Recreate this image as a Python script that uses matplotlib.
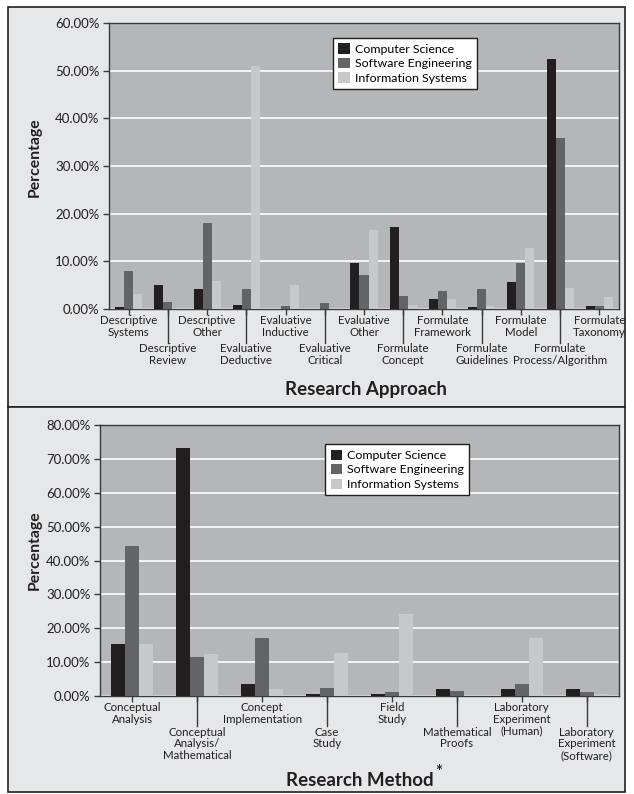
import matplotlib
matplotlib.use("Agg")
import matplotlib.pyplot as plt
from matplotlib.patches import Rectangle
from matplotlib.lines import Line2D
from matplotlib.ticker import FuncFormatter
import numpy as np

plt.rcParams['font.family'] = ['Lato', 'DejaVu Sans']

series = ["Computer Science", "Software Engineering", "Information Systems"]
colors = ["#231f20", "#636466", "#c7c8ca"]

approach_cats = ["Descriptive\nSystems", "Descriptive\nReview", "Descriptive\nOther",
                 "Evaluative\nDeductive", "Evaluative\nInductive", "Evaluative\nCritical",
                 "Evaluative\nOther", "Formulate\nConcept", "Formulate\nFramework",
                 "Formulate\nGuidelines", "Formulate\nModel", "Formulate\nProcess/Algorithm",
                 "Formulate\nTaxonomy"]
approach_cs = [0.5, 5.0, 4.1, 0.9, 0.0, 0.0, 9.7, 17.1, 2.2, 0.5, 5.7, 52.5, 0.7]
approach_se = [8.0, 1.5, 18.1, 4.3, 0.7, 1.3, 7.2, 2.8, 3.8, 4.3, 9.7, 35.9, 0.7]
approach_is = [3.1, 0.2, 5.9, 51.0, 5.0, 0.0, 16.6, 0.9, 2.2, 0.7, 12.7, 4.5, 2.6]

method_cats = ["Conceptual\nAnalysis", "Conceptual\nAnalysis/\nMathematical",
               "Concept\nImplementation", "Case\nStudy", "Field\nStudy",
               "Mathematical\nProofs", "Laboratory\nExperiment\n(Human)",
               "Laboratory\nExperiment\n(Software)"]
method_cs = [15.4, 73.3, 3.5, 0.6, 0.6, 2.1, 2.1, 2.1]
method_se = [44.3, 11.5, 17.1, 2.4, 1.2, 1.5, 3.5, 1.2]
method_is = [15.4, 12.4, 2.1, 12.7, 24.2, 0.0, 17.1, 0.6]

W, H = 634, 794
fig = plt.figure(figsize=(W / 100, H / 100), dpi=100, facecolor="white")

def fx(px):
    return px / W

def fy(py):
    return 1 - py / H

# panels
for (y0, y1) in [(7, 407), (407, 792)]:
    fig.patches.append(Rectangle((fx(8), fy(y1)), fx(625) - fx(8), fy(y0) - fy(y1),
                                 transform=fig.transFigure, facecolor="#e6e7e8",
                                 edgecolor="#231f20", linewidth=1.2, zorder=-10))

def make_chart(rect, hpx, cats, data, width, ymax, leg_anchor, label_gap, row2_gap, line_px):
    ax = fig.add_axes(rect)
    ax.set_zorder(5)
    ax.set_facecolor("#b5b6b8")
    x = np.arange(len(cats))
    for i, (vals, name, c) in enumerate(zip(data, series, colors)):
        ax.bar(x + (i - 1) * width, vals, width=width, color=c, label=name, zorder=3)
    ax.set_xlim(-0.5, len(cats) - 0.5)
    ax.set_ylim(0, ymax)
    ax.set_yticks(np.arange(0, ymax + 0.1, 10))
    ax.yaxis.set_major_formatter(FuncFormatter(lambda v, p: "%.2f%%" % v))
    ax.grid(axis="y", color="white", linewidth=1.2, zorder=1)
    ax.set_axisbelow(True)
    for s in ax.spines.values():
        s.set_color("#3a3a3a")
        s.set_linewidth(1.0)
    ax.tick_params(axis="y", direction="out", length=4, width=1, color="#3a3a3a",
                   labelsize=9.5, pad=3, labelcolor="#231f20")
    ax.set_xticks(x)
    ax.set_xticklabels([])
    ax.tick_params(axis="x", direction="out", length=4, width=1, color="#3a3a3a")
    tr = ax.get_xaxis_transform()
    for i, lab in enumerate(cats):
        off = -label_gap if i % 2 == 0 else -label_gap - row2_gap
        ax.annotate(lab, xy=(i, 0), xycoords=tr, xytext=(0, off), textcoords="offset points",
                    ha="center", va="top", fontsize=8.3, linespacing=1.08, color="#231f20",
                    annotation_clip=False)
    # leader lines for the second row
    frac = line_px / hpx
    for i in range(1, len(cats), 2):
        ax.add_line(Line2D([i, i], [0, -frac], transform=tr, color="#3a3a3a", lw=1.0,
                           clip_on=False))
    leg = ax.legend(loc="upper left", bbox_to_anchor=leg_anchor, fontsize=8.9,
                    frameon=True, fancybox=False, edgecolor="#231f20", facecolor="white",
                    framealpha=1, handlelength=0.9, handleheight=0.9, handletextpad=0.4,
                    labelspacing=0.25, borderpad=0.45, borderaxespad=0)
    leg.get_frame().set_linewidth(1.0)
    return ax

ax1 = make_chart([fx(109), fy(309), fx(619) - fx(109), fy(23) - fy(309)], 286,
                 approach_cats, [approach_cs, approach_se, approach_is], 0.23, 60,
                 (0.439, 0.948), 4.5, 20, 34)
ax2 = make_chart([fx(100), fy(696), fx(619) - fx(100), fy(425) - fy(696)], 271,
                 method_cats, [method_cs, method_se, method_is], 0.216, 80,
                 (0.4335, 0.930), 4.5, 17.5, 30)

fig.text(fx(35), fy(157), "Percentage", rotation=90, ha="center", va="center",
         fontsize=11.3, fontweight="bold", color="#231f20")
fig.text(fx(35), fy(550), "Percentage", rotation=90, ha="center", va="center",
         fontsize=11.3, fontweight="bold", color="#231f20")
fig.text(fx(366), fy(389), "Research Approach", ha="center", va="center",
         fontsize=13.5, fontweight="bold", color="#231f20")
fig.text(fx(360), fy(780), "Research Method", ha="center", va="center",
         fontsize=13.5, fontweight="bold", color="#231f20")
fig.text(fx(439), fy(772), "*", ha="center", va="center",
         fontsize=12, fontweight="bold", color="#231f20")

fig.savefig("out.png", dpi=100, facecolor="white")
